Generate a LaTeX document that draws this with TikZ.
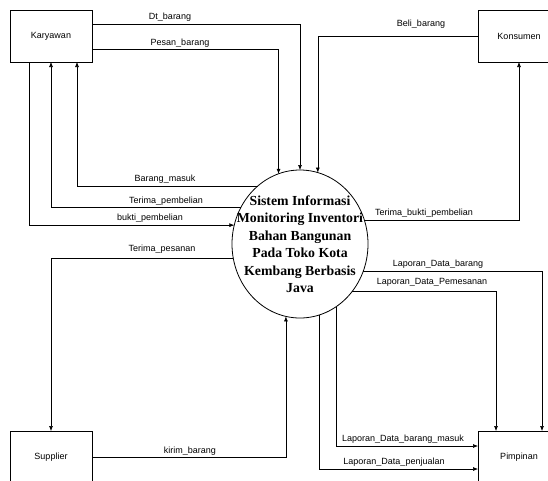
\documentclass[tikz,border=0pt]{standalone}
\usepackage{fontspec}
\setmainfont{Liberation Sans}
\newfontfamily\sistemfont{Liberation Serif}
\usetikzlibrary{arrows.meta,shapes.geometric,positioning}
\tikzset{
     entity/.style={draw, rectangle, line width=0.7pt, outer sep=0pt,
                    minimum width=82pt, minimum height=52pt,
                    font=\fontsize{9}{10}\selectfont},
     proses/.style={draw, ellipse, line width=0.8pt, outer sep=0pt, inner sep=0pt,
                    minimum width=136pt, minimum height=148pt},
     prosestext/.style={align=center, inner sep=0pt,
                    font=\sistemfont\bfseries\fontsize{13.8}{17.5}\selectfont},
     flow/.style={line width=0.6pt, ->},
     lbl/.style={inner sep=0pt, font=\fontsize{9}{10}\selectfont},
}
\tikzset{>={Latex[length=5pt,width=4pt]}}

\begin{document}
\begin{tikzpicture}[x=1pt,y=-1pt]
	\useasboundingbox (0,0) rectangle (548,480);
	\clip (0,0) rectangle (548,480);

	% entitas luar
	\node[entity] (Karyawan) at (51,36) {Karyawan};
	\node[entity] (Konsumen) at (519,36) {Konsumen};
	\node[entity] (Supplier) at (51,457) {Supplier};
	\node[entity] (Pimpinan) at (519,457) {Pimpinan};

	% proses
	\node[proses, label={[prosestext]center:Sistem Informasi\\Monitoring Inventori\\Bahan Bangunan\\Pada Toko Kota\\Kembang Berbasis\\Java}] (sistem) at (300,244) {};

	% aliran data
	\draw[flow] ([yshift=12pt]Karyawan.east) -| (sistem.north);
	\draw[flow] ([yshift=-13pt]Karyawan.east) -| (sistem.107);
	\draw[flow] (Konsumen.west) -| (sistem.76);
	\draw[flow] (sistem.126) -| ([xshift=26pt]Karyawan.south);
	\draw[flow] (sistem.148) -| (Karyawan.south);
	\draw[flow] ([xshift=-22pt]Karyawan.south) |- (sistem.164);
	\draw[flow] (sistem.192) -| (Supplier.north);
	\draw[flow] (Supplier.east) -| (sistem.259);
	\draw[flow] (sistem.20) -| (Konsumen.south);
	\draw[flow] (sistem.337) -| ([xshift=23pt]Pimpinan.north);
	\draw[flow] (sistem.318) -| ([xshift=-23pt]Pimpinan.north);
	\draw[flow] (sistem.300) |- ([yshift=11pt]Pimpinan.west);
	\draw[flow] (sistem.285) |- ([yshift=-12pt]Pimpinan.west);

	% label aliran
	\node[lbl] (lDt) at (170,17.5) {Dt\_barang};
	\node[lbl] (lPesan) at (180,43) {Pesan\_barang};
	\node[lbl] (lBeli) at (421,24) {Beli\_barang};
	\node[lbl] (lMasuk) at (165,179) {Barang\_masuk};
	\node[lbl] (lTerimaBeli) at (166,201) {Terima\_pembelian};
	\node[lbl] (lBukti) at (150,218) {bukti\_pembelian};
	\node[lbl] (lPesanan) at (162,249) {Terima\_pesanan};
	\node[lbl] (lKirim) at (190,451) {kirim\_barang};
	\node[lbl] (lTerimaBukti) at (424,213) {Terima\_bukti\_pembelian};
	\node[lbl] (lLapBarang) at (438,264) {Laporan\_Data\_barang};
	\node[lbl] (lLapPesan) at (432,282) {Laporan\_Data\_Pemesanan};
	\node[lbl] (lLapMasuk) at (403,439) {Laporan\_Data\_barang\_masuk};
	\node[lbl] (lLapJual) at (394,462) {Laporan\_Data\_penjualan};
\end{tikzpicture}
\end{document}
